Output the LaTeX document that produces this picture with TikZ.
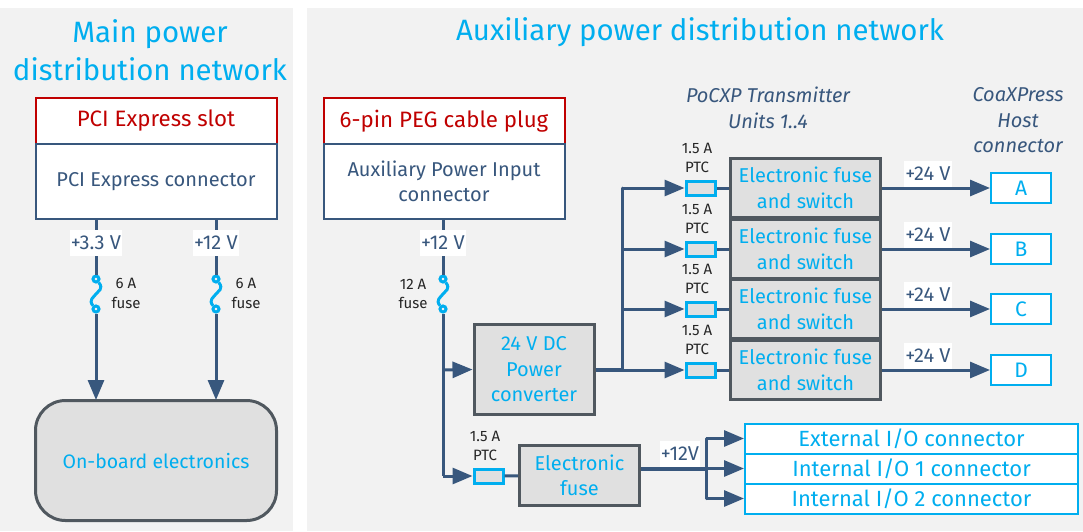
\documentclass[tikz,border=0pt]{standalone}
\usepackage{fontspec}
\setmainfont{Fira Sans}
\usetikzlibrary{arrows.meta,calc}
\definecolor{panel}{HTML}{F2F2F2}
\definecolor{wire}{HTML}{38577D}
\definecolor{sky}{HTML}{00AEEF}
\definecolor{darkred}{HTML}{C00000}
\definecolor{frame}{HTML}{50585F}
\definecolor{blockgray}{HTML}{E0E0E0}
\newcommand{\fontpx}[2]{\fontsize{#1}{#2}\selectfont}

\begin{document}
\begin{tikzpicture}[x=1pt,y=-1pt,
panelbox/.style={fill=panel,draw=none},
titletext/.style={text=sky,align=center,font=\fontpx{29.4}{38}},
headbox/.style={draw=darkred,fill=white,line width=2pt,text=darkred,minimum width=241pt,minimum height=46pt,font=\fontpx{22.3}{26},inner sep=0pt},
connbox/.style={draw=wire,fill=white,line width=2pt,text=wire,align=center,minimum width=241pt,minimum height=75pt,font=\fontpx{20}{25.5},inner sep=0pt},
block/.style={draw=frame,fill=blockgray,line width=3pt,text=sky,align=center,font=\fontpx{20}{25.5},inner sep=0pt},
efuse/.style={block,minimum width=150pt,minimum height=59pt},
ptc/.style={draw=sky,fill=blockgray,line width=3pt,minimum width=29pt,minimum height=14pt,inner sep=0pt},
hostbox/.style={draw=sky,fill=white,line width=2pt,text=sky,minimum width=60pt,minimum height=30pt,font=\fontpx{21}{25},inner sep=0pt},
iobox/.style={draw=sky,fill=white,line width=2pt,text=sky,minimum width=333pt,minimum height=30pt,font=\fontpx{22}{26},inner sep=0pt},
fusepin/.style={circle,draw=sky,fill=panel,line width=3pt,minimum size=6pt,inner sep=0pt},
fusecurve/.style={draw=sky,line width=3pt},
wireline/.style={draw=wire,line width=3pt},
arrowline/.style={wireline,-{Triangle[length=20pt,width=16pt]}},
voltlabel/.style={fill=white,text=wire,font=\fontpx{20}{24},inner xsep=1pt,inner ysep=0pt,minimum height=26pt},
smalllabel/.style={text=black!85,align=center,font=\fontpx{15}{19.5}},
headtext/.style={text=wire,align=center,font=\itshape\fontpx{20}{25.5}}]
\useasboundingbox (0,0) rectangle (1083,531);
\fill[white] (0,0) rectangle (1083,531);
\fill[panelbox] (0,8) rectangle (293,531);
\fill[panelbox] (307,8) rectangle (1083,531);
\node[titletext] (maintitle) at (150,50) {Main power\\distribution network};
\node[titletext] (auxtitle) at (700,32) {Auxiliary power distribution network};
% main network
\node[headbox] (pcislot) at (156,121) {PCI Express slot};
\node[connbox] (pciconn) at (156,181.5) {PCI Express connector};
\node[block,rounded corners=30pt,minimum width=241pt,minimum height=120pt] (onboard) at (156,460.5) {\fontpx{19.5}{24}On-board electronics};
\foreach \name/\x/\volt in {a/96/+3.3 V,b/216/+12 V}{
\node[fusepin] (\name top) at (\x,279) {};
\node[fusepin] (\name bot) at (\x,309) {};
\draw[fusecurve] (\name top) .. controls (\x+8,289) and (\x+2,291) .. (\x,294) .. controls (\x-2,297) and (\x-8,300) .. (\name bot);
\draw[wireline] (\x,219) -- (\name top);
\draw[arrowline] (\name bot) -- (\x,400);
\node[voltlabel] (\name volt) at (\x,243) {\volt};
\node[smalllabel] (\name note) at (\x+30,293.5) {6 A\\fuse};
}
% auxiliary network
\node[headbox] (pegplug) at (444,121) {6-pin PEG cable plug};
\node[connbox] (auxconn) at (444,181.5) {Auxiliary Power Input\\connector};
\node[block,minimum width=120pt,minimum height=90pt] (converter) at (534,369.5) {24 V DC\\Power\\converter};
\node[block,minimum width=120pt,minimum height=60pt] (elfuse) at (579.5,475.5) {Electronic\\fuse};
\node[ptc] (mainptc) at (488.5,476) {};
\node[smalllabel] (mainptcnote) at (485,446) {1.5 A\\PTC};
\node[fusepin] (auxtop) at (443,279) {};
\node[fusepin] (auxbot) at (443,309) {};
\draw[fusecurve] (auxtop) .. controls (451,289) and (445,291) .. (443,294) .. controls (441,297) and (435,300) .. (auxbot);
\node[smalllabel] (auxnote) at (413,294) {12 A\\fuse};
\coordinate (convtap) at (443,370);
\coordinate (ptctap) at (443,476);
\coordinate (busin) at (622,370);
\draw[wireline] (443,219) -- (auxtop);
\draw[wireline,line join=round] (auxbot) -- (ptctap);
\draw[arrowline] (convtap) -- (converter.west);
\draw[arrowline] (ptctap) -- (mainptc.west);
\draw[wireline] (mainptc) -- (elfuse);
\node[voltlabel] (auxvolt) at (443,243) {+12 V};
\draw[wireline,line width=4pt] (converter.east |- busin) -- (busin);
\foreach \row/\y/\host in {1/188/A,2/249/B,3/309/C,4/370/D}{
\node[efuse] (fuse\row) at (805.5,\y) {Electronic fuse\\and switch};
\node[ptc] (ptc\row) at (700.5,\y) {};
\node[smalllabel] (ptcnote\row) at (697,\y-30) {1.5 A\\PTC};
\node[hostbox] (host\row) at (1021,\y) {\host};
\draw[arrowline] (622,\y) -- (ptc\row.west);
\draw[wireline] (ptc\row) -- (fuse\row);
\draw[arrowline] (fuse\row.east) -- (host\row.west);
\node[voltlabel] (volt\row) at (928,\y-14) {+24 V};
}
\draw[wireline,line cap=round] (622,188) -- (busin);
\node[headtext] (unittext) at (768,108) {PoCXP Transmitter\\Units 1..4};
\node[headtext] (hosttext) at (1018,120.5) {CoaXPress\\Host\\connector};
\foreach \row/\y/\io in {1/438.5/{External I/O connector},2/468.5/{Internal I/O 1 connector},3/498.5/{Internal I/O 2 connector}}{
\node[iobox] (io\row) at (911.5,\y) {\io};
}
\coordinate (iotap) at (706,468.5);
\node[voltlabel] (iovolt) at (680,454) {+12V};
\draw[wireline,line width=4pt] (elfuse.east |- iotap) -- (iotap);
\draw[wireline,line cap=round] (706,438.5) -- (706,498.5);
\foreach \row in {1,2,3}{
\draw[arrowline] (706,0 |- io\row.west) -- (io\row.west);
}
\end{tikzpicture}
\end{document}
